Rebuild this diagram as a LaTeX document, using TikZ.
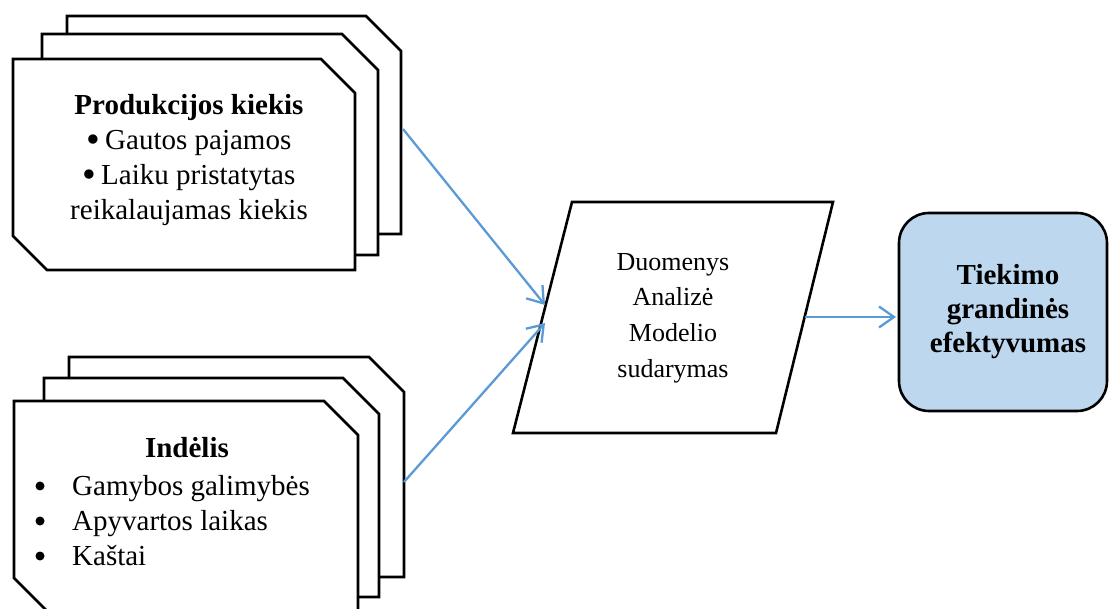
\documentclass[tikz,border=0pt]{standalone}
\usepackage{fontspec}
\usepackage{graphicx}
\setmainfont{Liberation Serif}
\usetikzlibrary{arrows.meta}

\definecolor{flowblue}{RGB}{91,155,213}
\definecolor{resultfill}{RGB}{189,215,238}

% card outline with chamfered top-right and bottom-left corners
\newcommand\cardoutline[2]{%
  \draw[cardline] ([xshift=-#2]#1.north east) -- ([yshift=-#2]#1.north east)
    -- (#1.south east) -- ([xshift=#2]#1.south west)
    -- ([yshift=#2]#1.south west) -- (#1.north west) -- cycle;}
% a slightly larger inline bullet that does not change the line height
\newcommand\listdot{\smash{\raisebox{-0.11em}{\scalebox{1.35}{\textbullet}}}}

\begin{document}
\begin{tikzpicture}[x=1pt,y=-1pt,
  cardbox/.style={shape=rectangle, draw=none, inner sep=0pt, outer sep=0pt, anchor=north west},
  cardline/.style={draw=black, fill=white, line width=2.6pt, line join=miter},
  bigtext/.style={font=\fontsize{29}{35}\selectfont, inner sep=0pt},
  midtext/.style={font=\fontsize{26}{35.7}\selectfont, inner sep=0pt},
  bulletdot/.style={fill=black},
  flow/.style={draw=flowblue, line width=2.3pt, -{Straight Barb[length=15pt,width=21pt,line width=2.3pt]}},
  resultbox/.style={draw=black, fill=resultfill, line width=2.6pt, rounded corners=30pt,
    inner sep=0pt, outer sep=0pt, anchor=north west,
    font=\fontsize{29}{34}\selectfont\bfseries, align=center}
]
\useasboundingbox (0,0) rectangle (1109,609);

% --- output stack ---
\node[cardbox, minimum width=334pt, minimum height=218pt] (prodC) at (67,16) {};
\node[cardbox, minimum width=336pt, minimum height=221pt] (prodB) at (42,34) {};
\node[cardbox, minimum width=342pt, minimum height=211pt] (prodA) at (13,59) {};
\cardoutline{prodC}{35pt}
\cardoutline{prodB}{36pt}
\cardoutline{prodA}{34pt}
\node[bigtext, align=center] (prodT) at (189,160)
  {{\bfseries Produkcijos kiekis}\\
   \listdot\,Gautos pajamos\\
   \listdot\,Laiku pristatytas\\
   reikalaujamas kiekis};

% --- input stack ---
\node[cardbox, minimum width=335pt, minimum height=220pt] (indC) at (69,357) {};
\node[cardbox, minimum width=335pt, minimum height=219pt] (indB) at (44,378) {};
\node[cardbox, minimum width=344pt, minimum height=211pt] (indA) at (14,401) {};
\cardoutline{indC}{35pt}
\cardoutline{indB}{36pt}
\cardoutline{indA}{34pt}
\node[bigtext] (indT) at (187,448) {\bfseries Indėlis};
\node[bigtext, align=left, anchor=west] (indL) at (72,521)
  {Gamybos galimybės\\
   Apyvartos laikas\\
   Kaštai};
\fill[bulletdot] (40,486) circle[radius=4.5pt];
\fill[bulletdot] (40,521) circle[radius=4.5pt];
\fill[bulletdot] (40,556) circle[radius=4.5pt];

% --- processing parallelogram ---
\coordinate (q1) at (572,202);
\coordinate (q2) at (833,202);
\coordinate (q3) at (776,433);
\coordinate (q4) at (513,433);
\draw[cardline] (q1) -- (q2) -- (q3) -- (q4) -- cycle;
\node[midtext, align=center] (para) at (673,318)
  {Duomenys\\Analizė\\Modelio\\sudarymas};
\coordinate (pin1) at (545,305);
\coordinate (pin2) at (545,323);
\coordinate (pout) at (805,317);

% --- result ---
\node[resultbox, minimum width=208pt, minimum height=198pt] (res) at (899,213)
  {\hspace*{10pt}Tiekimo\\\hspace*{10pt}grandinės\\\hspace*{10pt}efektyvumas};

% --- connectors ---
\draw[flow] ([shift={(2,4)}]prodC.east) -- (pin1);
\draw[flow] ([shift={(0,15)}]indC.east) -- (pin2);
\draw[flow] (pout) -- ([xshift=-3pt]res.west |- pout);
\end{tikzpicture}
\end{document}
